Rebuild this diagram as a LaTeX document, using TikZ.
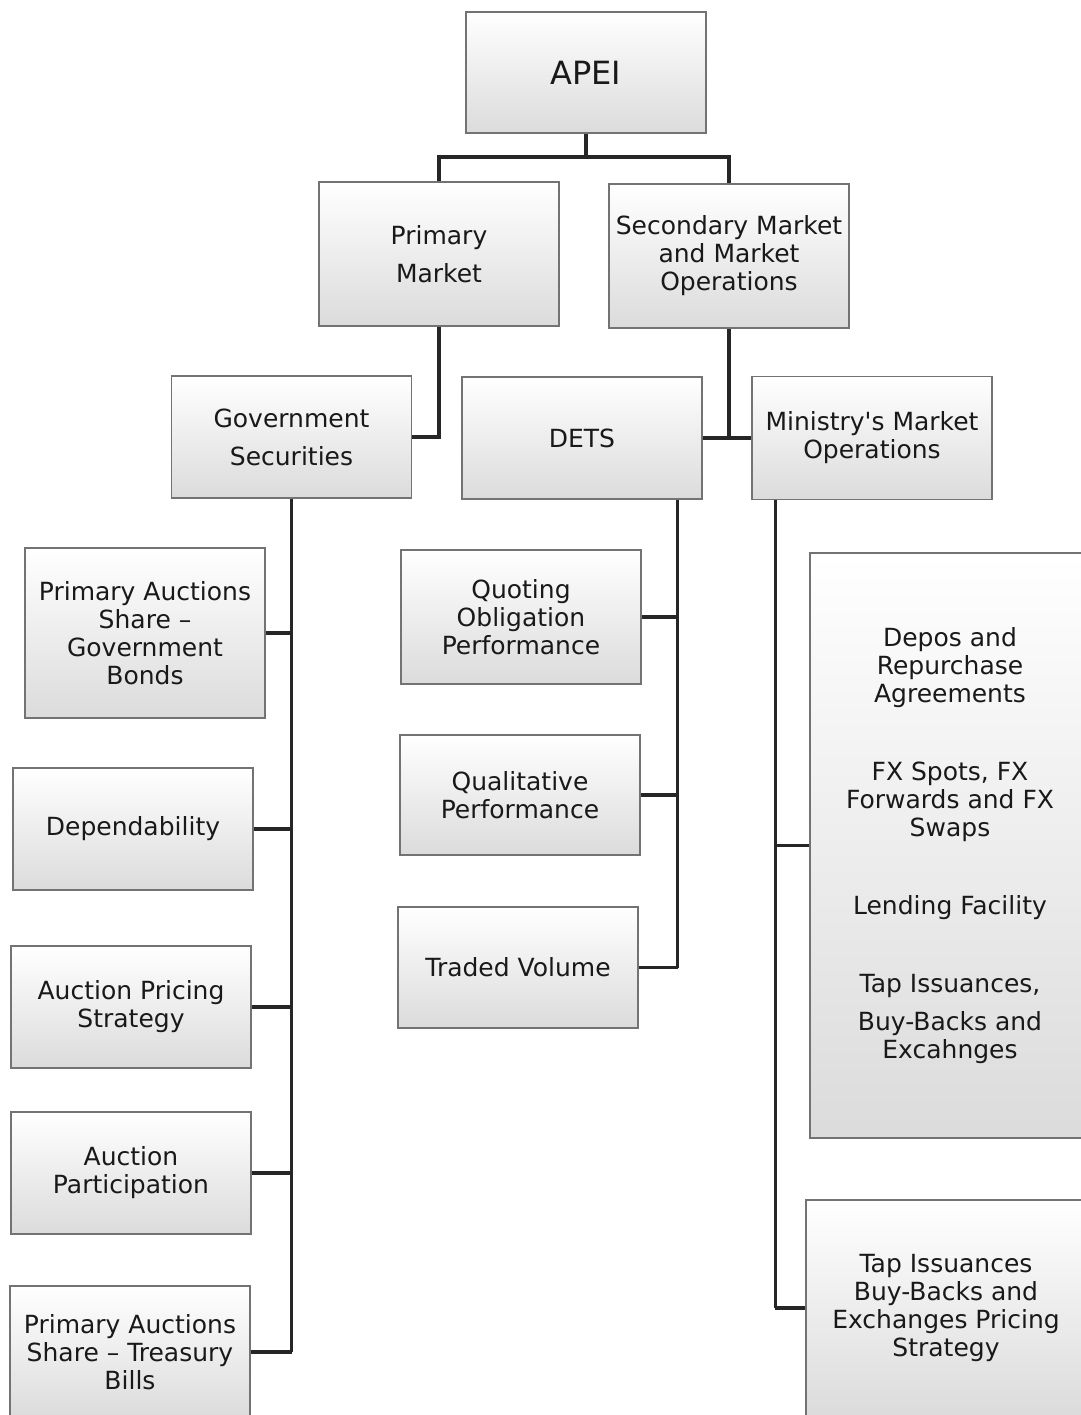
\documentclass[tikz,border=0pt]{standalone}
\usepackage{fontspec}
\setmainfont{DejaVu Sans}

\newcommand\boxw{120pt}
\newcommand\wideboxw{140pt}
\newcommand\groupsep{25pt}

\tikzset{
  blockbox/.style={draw=black!55, line width=0.6pt, top color=white, bottom color=black!14,
    minimum width=\boxw, align=center, inner sep=2pt, text=black!90,
    font=\fontsize{12.5}{14}\selectfont},
  link/.style={draw=black!85, line width=1.8pt}
}

\begin{document}
\begin{tikzpicture}[x=0.5pt,y=-0.5pt]
    \clip (0,0) rectangle (1081,1415);

    \node[blockbox, minimum height=60.5pt, font=\fontsize{16}{18}\selectfont] (apei) at (586,72.5) {APEI};
    \node[blockbox, minimum height=72pt] (pm) at (439,254) {Primary\\[5pt] Market};
    \node[blockbox, minimum height=72pt] (sm) at (729,256) {Secondary Market\\ and Market\\ Operations};

    \node[blockbox, minimum height=61pt] (gs) at (291.5,437) {Government\\[5pt] Securities};
    \node[blockbox, minimum height=61pt] (dets) at (582,438) {DETS};
    \node[blockbox, minimum height=61.5pt] (mmo) at (872,438) {Ministry\textquotesingle s Market\\ Operations};

    \node[blockbox, minimum height=85pt] (gb) at (145,633) {Primary Auctions\\ Share --\\ Government\\ Bonds};
    \node[blockbox, minimum height=61pt] (dep) at (133,829) {Dependability};
    \node[blockbox, minimum height=61pt] (aps) at (131,1007) {Auction Pricing\\ Strategy};
    \node[blockbox, minimum height=61pt] (ap) at (131,1173) {Auction\\ Participation};
    \node[blockbox, minimum height=66pt] (tb) at (130,1352) {Primary Auctions\\ Share -- Treasury\\ Bills};

    \node[blockbox, minimum height=67pt] (qop) at (521,617) {Quoting\\ Obligation\\ Performance};
    \node[blockbox, minimum height=60pt] (qp) at (520,795) {Qualitative\\ Performance};
    \node[blockbox, minimum height=60.5pt] (tv) at (518,967.5) {Traded Volume};

    \node[blockbox, minimum width=\wideboxw, minimum height=292.5pt] (ops) at (950,845.5)
      {Depos and\\ Repurchase\\ Agreements\\[\groupsep]
       FX Spots, FX\\ Forwards and FX\\ Swaps\\[\groupsep]
       Lending Facility\\[\groupsep]
       Tap Issuances,\\[5pt] Buy-Backs and\\ Excahnges};
    \node[blockbox, minimum width=\wideboxw, minimum height=108pt] (tap) at (946,1308)
      {Tap Issuances\\ Buy-Backs and\\ Exchanges Pricing\\ Strategy};

    \coordinate (split) at (586,157);
    \draw[link] (apei.south) -- (split);
    \draw[link] (pm.north) |- (split) -| (sm.north);
    \draw[link] (pm.south) |- (gs.east);
    \draw[link] (sm.south) -- (sm.south |- dets.east);
    \draw[link] (dets.east) -- (mmo.west);

    \draw[link] (gs.south) -- (gs.south |- tb.east);
    \draw[link] (gb.east) -- (gb.east -| gs.south);
    \draw[link] (dep.east) -- (dep.east -| gs.south);
    \draw[link] (aps.east) -- (aps.east -| gs.south);
    \draw[link] (ap.east) -- (ap.east -| gs.south);
    \draw[link] (tb.east) -- (tb.east -| gs.south);

    \path (dets.south east) ++(-25,0) coordinate (dtop);
    \draw[link] (dtop) -- (dtop |- tv.east);
    \draw[link] (qop.east) -- (qop.east -| dtop);
    \draw[link] (qp.east) -- (qp.east -| dtop);
    \draw[link] (tv.east) -- (tv.east -| dtop);

    \path (mmo.south west) ++(24,0) coordinate (mtop);
    \draw[link] (mtop) -- (mtop |- tap.west);
    \draw[link] (ops.west) -- (ops.west -| mtop);
    \draw[link] (tap.west) -- (tap.west -| mtop);
  \end{tikzpicture}
\end{document}
